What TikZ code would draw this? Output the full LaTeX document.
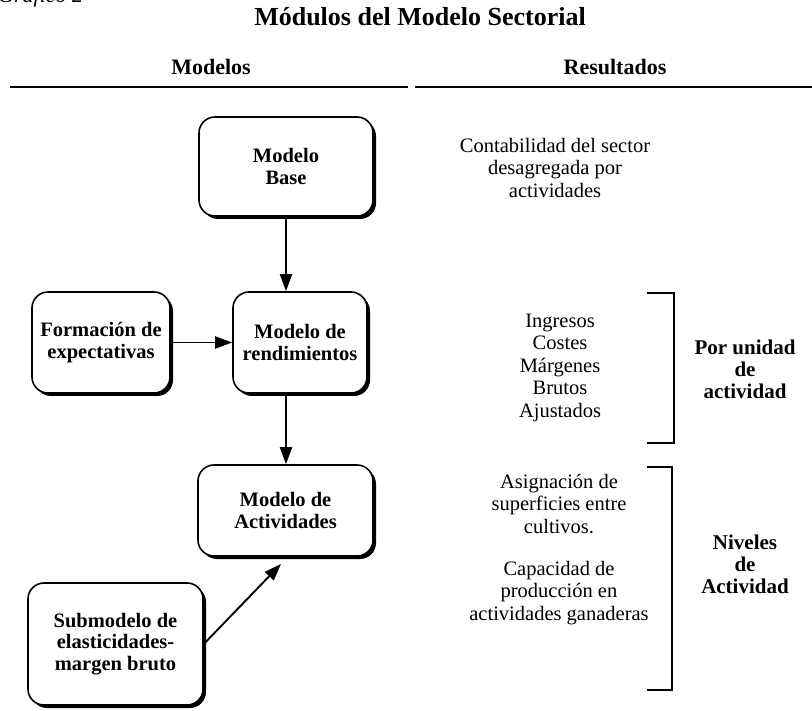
\documentclass[tikz,border=0pt]{standalone}
\usepackage{fontspec}
\setmainfont{Liberation Serif}
\usetikzlibrary{arrows.meta,shadows,calc}
\begin{document}
\begin{tikzpicture}[x=1pt,y=-1pt,
  modbox/.style={draw,line width=1.6pt,rounded corners=16pt,fill=white,align=center,
    font=\bfseries\fontsize{20.5}{21.5}\selectfont,inner sep=0pt,
    drop shadow={shadow xshift=3pt,shadow yshift=-3pt,fill=black,opacity=1}},
  flow/.style={-{Triangle[length=17pt,width=12pt]},line width=1.9pt},
  restext/.style={align=center,font=\fontsize{20.5}{22.5}\selectfont,inner sep=0pt},
  reslabel/.style={align=center,font=\bfseries\fontsize{21}{22}\selectfont,inner sep=0pt},
  head/.style={font=\bfseries\fontsize{22}{24}\selectfont,inner sep=0pt,anchor=base},
  rulestyle/.style={line width=1.5pt},
  bracketstyle/.style={line width=1.4pt}]
\useasboundingbox (0,0) rectangle (812,711);

% caption at the top, cut by the page edge as in the reference
\node[font=\itshape\fontsize{22}{24}\selectfont,anchor=base west,inner sep=0pt] (fig) at (-2,3) {Gráfico 2};

% title and headers
\node[font=\bfseries\fontsize{26}{28}\selectfont,anchor=base,inner sep=0pt] (title) at (420,26) {Módulos del Modelo Sectorial};
\node[head] (hmod) at (211,75) {Modelos};
\node[head] (hres) at (615,75) {Resultados};
\draw[rulestyle] (10,87) -- (408,87);
\draw[rulestyle] (415,87) -- (812,87);

% model boxes
\node[modbox,minimum width=174pt,minimum height=99pt] (base) at (286,166.5) {Modelo\\Base};
\node[modbox,minimum width=138pt,minimum height=101pt] (form) at (101,342.5) {Formación de\\expectativas};
\node[modbox,minimum width=134pt,minimum height=101pt] (rend) at (300,342.5) {Modelo de\\rendimientos};
\node[modbox,minimum width=175pt,minimum height=91pt] (act) at (285.5,510.5) {Modelo de\\Actividades};
\node[modbox,minimum width=175pt,minimum height=122pt] (sub) at (115.5,644) {Submodelo de\\elasticidades-\\margen bruto};
\coordinate (subend) at (281,564);

% connectors
\draw[flow] (base.south) -- (base.south |- rend.north);
\draw[flow] (base.south |- rend.south) -- (base.south |- act.north);
\draw[flow] (form.east) -- (rend.west);
\draw[flow] (sub.east) -- (subend);

% results
\node[restext] (conta) at (555,167.5) {Contabilidad del sector\\desagregada por\\actividades};
\node[restext] (ingr) at (560,367.5) {Ingresos\\Costes\\Márgenes\\Brutos\\Ajustados};
\node[reslabel] (porunidad) at (745,369.5) {Por unidad\\de\\actividad};
\draw[bracketstyle] (647,293) -| (674,443) -- (647,443);

\node[restext] (asig) at (559,549.5) {Asignación de\\superficies entre\\cultivos.\\[19.5pt]Capacidad de\\producción en\\actividades ganaderas};
\node[reslabel] (niveles) at (745,564.5) {Niveles\\de\\Actividad};
\draw[bracketstyle] (647,467) -| (672,690) -- (647,690);
\end{tikzpicture}
\end{document}
